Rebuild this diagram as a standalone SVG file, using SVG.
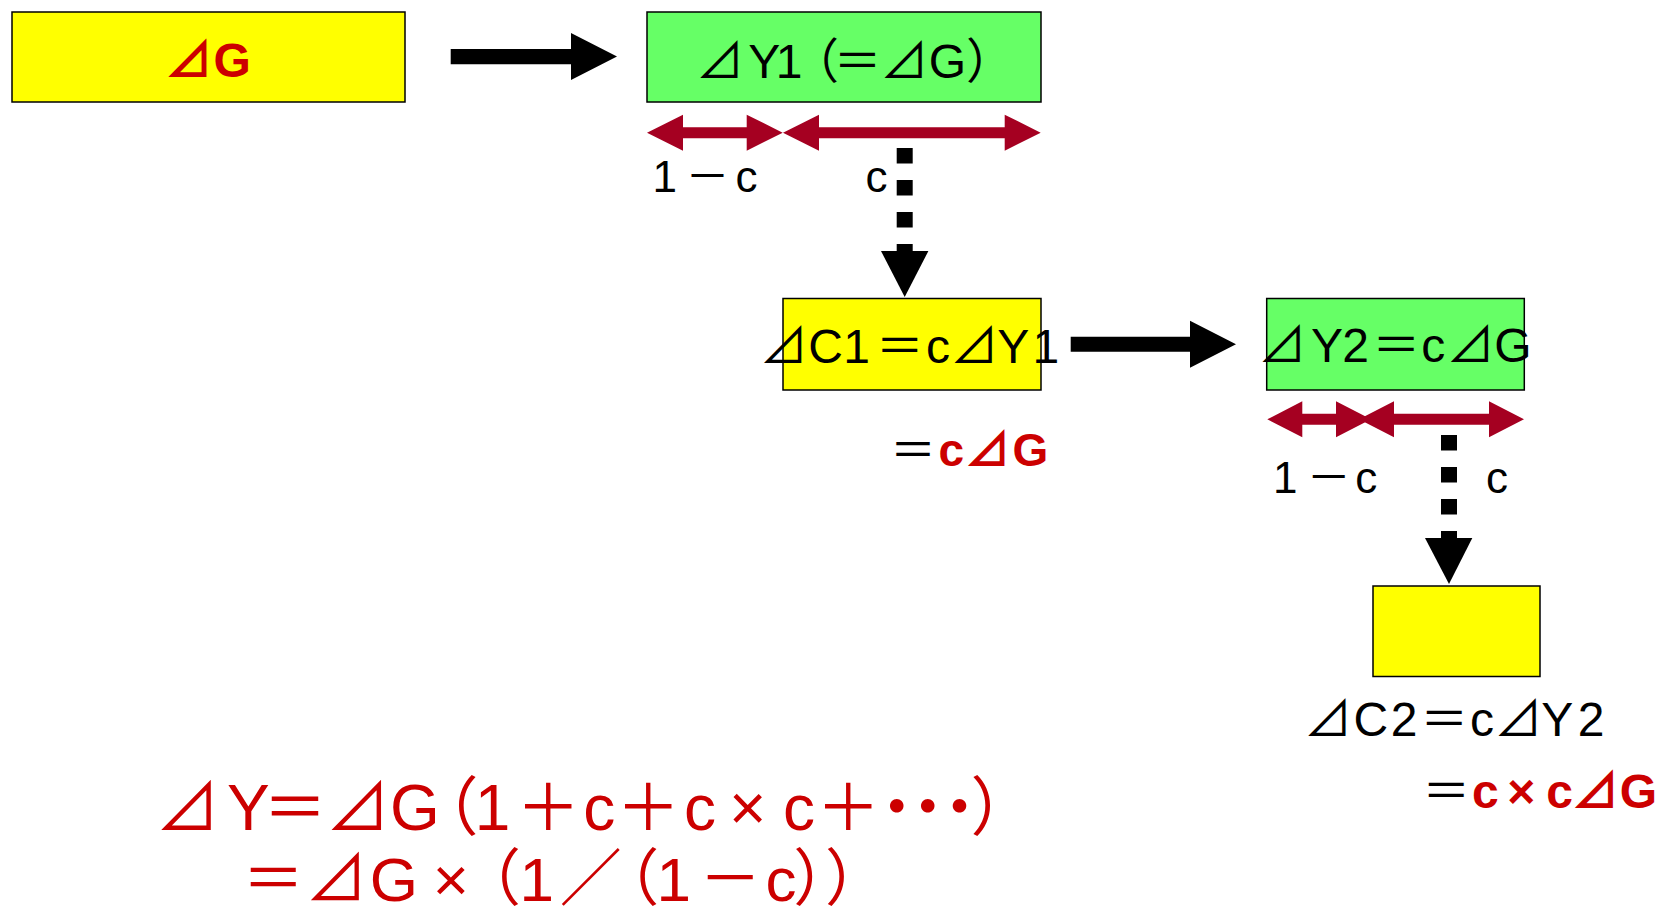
<svg xmlns="http://www.w3.org/2000/svg" width="1662" height="911" viewBox="0 0 1662 911">
<style>
.box{stroke:#000;stroke-width:1.5}
.yel{fill:#FFFF00}
.grn{fill:#66FF66}
.t{font-family:"Liberation Sans","Noto Sans CJK JP",sans-serif;text-anchor:middle}
.blk{fill:#000}
.red{fill:#CC0000}
.b{font-weight:bold}
.split{fill:#A50021}
.solid{fill:#000}
.dots{stroke:#000;stroke-width:16;stroke-dasharray:15.5 16.5;fill:none}
</style>
<rect width="1662" height="911" fill="#fff"/>
<g id="connectors">
  <polygon class="solid" points="450.7,49 571,49 571,33 617,56.6 571,80.1 571,64.3 450.7,64.3"/>
  <polygon class="solid" points="1070.7,336.7 1190,336.7 1190,320.7 1236,344.2 1190,367.7 1190,351.7 1070.7,351.7"/>
  <polygon class="split" points="647,132.7 683,114.7 683,127.2 746.7,127.2 746.7,114.7 782.7,132.7 746.7,150.7 746.7,138.2 683,138.2 683,150.7"/>
  <polygon class="split" points="783,132.7 819,114.7 819,127.2 1004.7,127.2 1004.7,114.7 1040.7,132.7 1004.7,150.7 1004.7,138.2 819,138.2 819,150.7"/>
  <polygon class="split" points="1267.3,419.3 1302.3,401.3 1302.3,413.8 1336,413.8 1336,401.3 1371,419.3 1336,437.3 1336,424.8 1302.3,424.8 1302.3,437.3"/>
  <polygon class="split" points="1359,419.3 1394,401.3 1394,413.8 1489,413.8 1489,401.3 1524,419.3 1489,437.3 1489,424.8 1394,424.8 1394,437.3"/>
  <line class="dots" x1="904.7" y1="148" x2="904.7" y2="251"/>
  <polygon class="solid" points="881,251 928.4,251 904.7,297"/>
  <line class="dots" x1="1449" y1="435" x2="1449" y2="538"/>
  <polygon class="solid" points="1425,538 1472.3,538 1449,584"/>
</g>
<g id="node-dG">
  <rect class="box yel" x="12" y="12" width="393" height="90"/>
  <text class="t red b" font-size="48" x="188.8 232.2" y="76.7">⊿G</text>
</g>
<g id="node-dY1">
  <rect class="box grn" x="647" y="12" width="394" height="90"/>
  <text class="t blk" font-size="48" x="720 764.2 789.2 815 857.5 904.2 947.5 990" y="78">⊿Y1（＝⊿G）</text>
</g>
<g id="labels-1">
  <text class="t blk" font-size="44" x="664.7 707.5 746.5" y="192">1－c</text>
  <text class="t blk" font-size="44" x="876.5" y="192">c</text>
</g>
<g id="node-dC1">
  <rect class="box yel" x="783" y="298.5" width="258" height="91.5"/>
  <text class="t blk" font-size="48" x="783.8 825.5 856.7 899.7 938 974.3 1013.3 1045.8" y="363.3">⊿C1＝c⊿Y1</text>
  <text class="t" font-size="46" y="466"><tspan class="blk" x="913">＝</tspan><tspan class="red b" x="951.3 987.5 1030.3">c⊿G</tspan></text>
</g>
<g id="node-dY2">
  <rect class="box grn" x="1266.7" y="298.5" width="257.6" height="91.5"/>
  <text class="t blk" font-size="48" x="1282.3 1327 1355.5 1396.3 1433.3 1470.5 1513" y="361.7">⊿Y2＝c⊿G</text>
</g>
<g id="labels-2">
  <text class="t blk" font-size="44" x="1285.3 1328.8 1366.3" y="492.7">1－c</text>
  <text class="t blk" font-size="44" x="1497" y="492.7">c</text>
</g>
<g id="node-dC2">
  <rect class="box yel" x="1373" y="586" width="167" height="90.5"/>
  <text class="t blk" font-size="48" x="1328 1370.8 1404.2 1444.2 1482 1518.3 1557.2 1591.2" y="735.7">⊿C2＝c⊿Y2</text>
  <text class="t" font-size="48" y="808.3"><tspan class="blk" x="1446.3">＝</tspan><tspan class="red b" x="1485.3 1521.2 1559.5 1595.3 1638.3">c×c⊿G</tspan></text>
</g>
<g id="formula">
  <text class="t red" font-size="64" x="187.5 248.3 295 357.8 415 446.6 492.5 548.3 599.2 648.3 700 747.8 799 848.3 896.7 927.7 959.5 1002.6" y="830">⊿Y＝⊿G（1＋c＋c×c＋・・・）</text>
  <text class="t red" font-size="62" x="273.3 336.3 393.8 450.8 489.9 536.7 590.8 628.3 673.8 730.3 781 824.2 855.9" y="901">＝⊿G×（1／（1－c））</text>
</g>
</svg>
